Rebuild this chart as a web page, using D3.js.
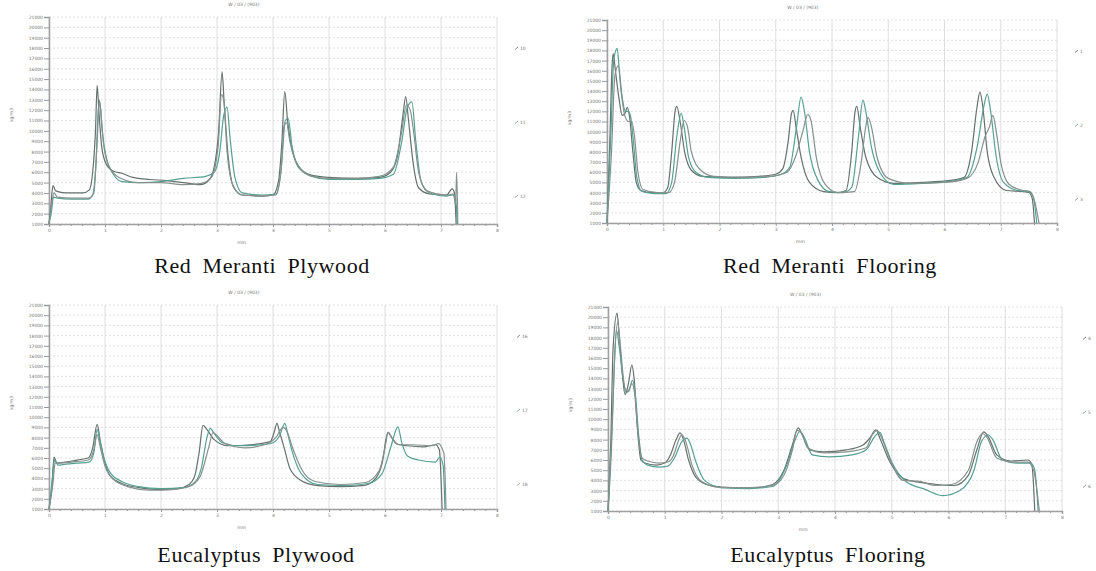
<!DOCTYPE HTML>
<html>
<head>
    <meta charset="utf-8">
    <title>Density profiles</title>
    <script src="https://d3js.org/d3.v7.min.js"></script>
    <style>
        body { margin: 0; background: #fff; }
        .cap { font-family: "Liberation Serif", "DejaVu Serif", serif; font-size: 22px; fill: #111; letter-spacing: 0.6px; word-spacing: 5px; }
        .tiny { font-family: "DejaVu Sans", sans-serif; font-size: 4.5px; fill: #777; }
    </style>
</head>
<body>
<svg id="chart" width="1096" height="571"></svg>
<script type="text/javascript">
    // tick labels
    var xTicks = [0, 1, 2, 3, 4, 5, 6, 7, 8];
    var xMinor = [0.2, 0.4, 0.6, 0.8, 1.2, 1.4, 1.6, 1.8, 2.2, 2.4, 2.6, 2.8, 3.2, 3.4, 3.6, 3.8,
                  4.2, 4.4, 4.6, 4.8, 5.2, 5.4, 5.6, 5.8, 6.2, 6.4, 6.6, 6.8, 7.2, 7.4, 7.6, 7.8];
    var yTicks = [1000, 2000, 3000, 4000, 5000, 6000, 7000, 8000, 9000, 10000, 11000,
                  12000, 13000, 14000, 15000, 16000, 17000, 18000, 19000, 20000, 21000];

    var captions = ["Red Meranti Plywood", "Red Meranti Flooring", "Eucalyptus Plywood", "Eucalyptus Flooring"];
    var legends = [["10", "11", "12"], ["1", "2", "3"], ["16", "17", "18"], ["4", "5", "6"]];
    var headTitle = "W / 03 / (903)";

    // [thickness mm, density]
    var rmPly1 = [[0,1000],[0.03,2500],[0.07,4700],[0.12,4200],[0.3,4000],[0.6,4000],[0.72,4300],[0.78,6000],[0.83,10000],[0.86,14400],[0.89,12000],[0.94,8500],[1.02,6800],[1.15,6100],[1.3,5900],[1.5,5500],[1.8,5300],[2.1,5200],[2.4,5000],[2.7,4800],[2.85,5200],[2.95,6500],[3.03,10000],[3.09,15700],[3.13,12500],[3.2,7500],[3.3,4500],[3.45,3800],[3.8,3700],[4.0,3800],[4.1,5200],[4.16,9000],[4.21,13800],[4.26,11000],[4.35,8000],[4.5,6300],[4.7,5700],[5.0,5500],[5.5,5400],[5.9,5500],[6.1,6000],[6.22,7500],[6.32,11500],[6.37,13300],[6.42,11000],[6.5,7000],[6.6,4500],[6.8,3900],[7.1,3800],[7.2,4400],[7.24,4000],[7.27,1000]];
    var rmPly2 = [[0,1200],[0.04,2000],[0.08,3600],[0.15,3500],[0.4,3400],[0.7,3400],[0.78,3800],[0.84,7000],[0.88,12000],[0.91,12700],[0.95,10000],[1.02,7500],[1.15,5800],[1.3,5100],[1.6,5000],[2.0,5100],[2.4,5400],[2.8,5600],[2.95,6000],[3.05,8000],[3.12,11500],[3.18,12300],[3.23,9500],[3.32,5500],[3.45,4000],[3.8,3800],[4.05,3900],[4.15,6500],[4.22,11000],[4.27,11200],[4.34,8500],[4.45,6500],[4.7,5600],[5.0,5300],[5.5,5300],[5.9,5400],[6.15,5800],[6.3,9000],[6.4,12300],[6.48,12800],[6.55,9000],[6.65,5000],[6.8,4000],[7.1,3700],[7.2,3800],[7.26,3500],[7.29,1000]];
    var rmPly3 = [[0,1000],[0.05,3000],[0.09,4000],[0.15,3600],[0.4,3500],[0.7,3500],[0.8,4000],[0.86,9000],[0.9,13000],[0.93,11500],[0.98,8500],[1.08,6500],[1.25,5500],[1.6,5000],[2.0,5000],[2.4,4800],[2.7,4900],[2.9,5500],[3.02,8500],[3.08,13500],[3.12,13000],[3.18,8000],[3.28,4800],[3.45,3800],[3.8,3700],[4.05,3800],[4.14,6000],[4.2,10500],[4.24,10800],[4.3,9000],[4.45,6600],[4.7,5600],[5.0,5400],[5.5,5400],[5.9,5600],[6.15,6500],[6.3,10000],[6.38,12500],[6.45,12000],[6.52,9500],[6.6,6000],[6.75,4200],[7.1,3800],[7.22,3900],[7.26,3000],[7.28,6000],[7.3,1000]];

    var rmFlr1 = [[0,1000],[0.05,9000],[0.09,16500],[0.11,17700],[0.15,16000],[0.22,13000],[0.27,11600],[0.32,11800],[0.36,12400],[0.4,11500],[0.46,8000],[0.52,5000],[0.6,4200],[0.8,4000],[1.0,4000],[1.08,4500],[1.15,8000],[1.21,12000],[1.24,12500],[1.3,11000],[1.38,8000],[1.5,6200],[1.7,5600],[2.2,5500],[2.7,5600],[3.0,5800],[3.12,6300],[3.22,9000],[3.28,11800],[3.31,12100],[3.36,10500],[3.45,7500],[3.6,5000],[3.85,4100],[4.1,4000],[4.25,4200],[4.35,8000],[4.41,12000],[4.44,12500],[4.5,10500],[4.6,7500],[4.8,5500],[5.1,4900],[5.6,5000],[6.1,5200],[6.35,5500],[6.48,8000],[6.58,12500],[6.63,13900],[6.68,12500],[6.76,8000],[6.88,5500],[7.1,4200],[7.4,4100],[7.5,4000],[7.56,3400],[7.6,1000]];
    var rmFlr2 = [[0,1000],[0.07,10000],[0.12,17000],[0.18,18200],[0.22,16000],[0.28,13000],[0.33,12000],[0.38,12000],[0.42,11500],[0.47,9000],[0.53,5500],[0.62,4100],[0.85,3900],[1.05,3900],[1.15,5000],[1.24,9500],[1.32,11800],[1.37,10500],[1.45,7500],[1.58,6000],[1.8,5500],[2.3,5400],[2.8,5500],[3.1,5800],[3.25,6500],[3.37,10500],[3.45,13400],[3.51,12000],[3.6,8000],[3.75,5200],[3.95,4100],[4.2,4000],[4.35,4500],[4.47,9500],[4.55,13100],[4.6,12000],[4.7,8500],[4.85,6000],[5.1,4800],[5.6,4900],[6.1,5100],[6.4,5500],[6.58,8500],[6.7,12500],[6.76,13700],[6.82,12000],[6.92,7500],[7.05,5000],[7.3,4200],[7.5,4100],[7.58,3500],[7.64,1000]];
    var rmFlr3 = [[0,1000],[0.08,8000],[0.14,15500],[0.2,16500],[0.25,14000],[0.32,11500],[0.38,11000],[0.44,11000],[0.49,9500],[0.55,6000],[0.64,4300],[0.9,4000],[1.1,4000],[1.2,5000],[1.3,9000],[1.37,11100],[1.43,10500],[1.5,8000],[1.65,6300],[1.9,5600],[2.4,5500],[2.9,5600],[3.2,6000],[3.35,7500],[3.48,10000],[3.57,11700],[3.63,11000],[3.72,7500],[3.88,4800],[4.1,4000],[4.4,4100],[4.52,7000],[4.6,10500],[4.64,11400],[4.7,10500],[4.8,7500],[5.0,5400],[5.4,4900],[6.0,5000],[6.4,5400],[6.6,7000],[6.72,9500],[6.8,10500],[6.86,11600],[6.92,10000],[7.0,7000],[7.15,4800],[7.4,4200],[7.52,4100],[7.6,3200],[7.68,1000]];

    var euPly1 = [[0,1000],[0.05,3000],[0.09,6100],[0.14,5500],[0.3,5600],[0.5,5800],[0.7,6000],[0.78,7000],[0.86,9300],[0.92,7500],[1.0,5500],[1.1,4200],[1.3,3500],[1.6,3100],[2.0,2900],[2.3,3000],[2.5,3400],[2.6,4200],[2.68,6500],[2.75,9200],[2.82,8800],[2.95,7800],[3.2,7200],[3.6,7300],[3.95,7600],[4.02,8500],[4.07,9400],[4.12,8500],[4.2,7000],[4.3,5000],[4.5,3800],[4.8,3300],[5.2,3200],[5.6,3300],[5.8,3800],[5.95,5500],[6.05,8500],[6.12,8000],[6.2,7400],[6.4,7200],[6.7,7100],[6.9,7300],[6.97,6800],[7.02,1000]];
    var euPly2 = [[0,1000],[0.06,4000],[0.1,5800],[0.16,5300],[0.3,5400],[0.5,5500],[0.72,5600],[0.8,6500],[0.86,8800],[0.9,8000],[0.98,6000],[1.1,4500],[1.3,3700],[1.6,3200],[2.0,3000],[2.4,3100],[2.6,3600],[2.72,5000],[2.82,8000],[2.88,8900],[2.95,8400],[3.1,7500],[3.4,7200],[3.8,7300],[4.0,7500],[4.12,8200],[4.21,9400],[4.27,8200],[4.35,6500],[4.5,4500],[4.8,3400],[5.3,3300],[5.7,3500],[5.95,4500],[6.1,7000],[6.2,8800],[6.23,9050],[6.3,7500],[6.4,6200],[6.6,5800],[6.9,5600],[6.98,6100],[7.04,5200],[7.07,1000]];
    var euPly3 = [[0,1000],[0.07,3500],[0.11,5500],[0.18,5500],[0.4,5600],[0.7,5800],[0.8,6800],[0.86,8300],[0.91,7200],[1.0,5200],[1.15,3900],[1.4,3200],[1.8,2850],[2.2,2900],[2.5,3200],[2.7,4200],[2.85,7000],[2.93,8500],[3.0,8200],[3.15,7400],[3.5,7000],[3.9,7400],[4.05,8000],[4.18,9000],[4.25,8600],[4.35,7000],[4.5,5000],[4.75,3700],[5.2,3400],[5.65,3600],[5.9,4800],[6.0,7000],[6.06,8550],[6.12,8000],[6.25,7300],[6.5,7300],[6.85,7200],[6.95,7400],[7.05,6500],[7.09,1000]];

    var euFlr1 = [[0,1000],[0.05,8000],[0.09,17000],[0.16,20400],[0.2,18000],[0.26,14000],[0.3,12400],[0.36,13500],[0.42,15300],[0.46,14000],[0.52,9000],[0.58,6000],[0.65,5700],[0.85,5500],[1.0,5700],[1.1,6500],[1.2,8000],[1.27,8650],[1.33,8000],[1.42,6000],[1.55,4300],[1.8,3500],[2.2,3300],[2.6,3300],[2.9,3600],[3.1,5000],[3.25,7500],[3.35,9150],[3.42,8500],[3.55,7000],[3.8,6800],[4.2,7000],[4.5,7500],[4.62,8200],[4.72,8950],[4.8,8000],[4.95,6000],[5.2,4200],[5.5,3800],[5.8,3600],[6.1,3500],[6.35,4500],[6.5,7000],[6.62,8750],[6.7,8300],[6.85,6500],[7.1,5900],[7.4,6000],[7.47,5500],[7.52,1000]];
    var euFlr2 = [[0,1000],[0.06,7000],[0.11,15000],[0.15,18700],[0.2,17000],[0.27,13800],[0.32,12600],[0.38,13000],[0.43,13800],[0.48,12500],[0.54,8500],[0.6,6000],[0.7,5500],[0.9,5300],[1.05,5400],[1.18,6300],[1.3,7800],[1.39,8150],[1.45,7600],[1.55,5800],[1.7,4000],[2.0,3300],[2.5,3200],[2.9,3400],[3.15,5500],[3.3,8000],[3.38,8800],[3.46,8200],[3.6,6500],[3.9,6300],[4.3,6500],[4.55,7000],[4.7,8300],[4.79,8700],[4.86,7800],[5.0,5800],[5.25,3900],[5.6,3100],[5.9,2500],[6.2,3000],[6.45,5000],[6.58,7800],[6.7,8450],[6.78,8000],[6.95,6000],[7.2,5700],[7.45,5700],[7.52,5000],[7.58,1000]];
    var euFlr3 = [[0,1000],[0.07,9000],[0.12,16500],[0.17,19500],[0.22,17000],[0.3,13000],[0.36,12700],[0.42,13500],[0.47,12500],[0.53,8500],[0.6,6200],[0.7,5900],[0.9,5700],[1.05,5800],[1.15,6400],[1.25,8000],[1.3,8500],[1.37,7800],[1.48,5500],[1.65,3900],[2.0,3300],[2.5,3300],[2.9,3500],[3.1,4500],[3.25,7000],[3.33,8900],[3.4,8700],[3.52,7200],[3.8,6700],[4.2,6800],[4.55,7200],[4.65,8400],[4.74,8900],[4.82,8200],[4.95,6300],[5.2,4000],[5.5,3900],[5.75,3500],[6.05,3600],[6.35,5000],[6.5,7800],[6.6,8600],[6.68,8200],[6.85,6200],[7.15,5800],[7.4,5800],[7.5,5000],[7.6,1000]];

    var panelSeries = [[rmPly1, rmPly2, rmPly3], [rmFlr1, rmFlr2, rmFlr3],
                       [euPly1, euPly2, euPly3], [euFlr1, euFlr2, euFlr3]];

    // where each scanned plot sits on the page
    var frames = [
        {left: 49, right: 497, top: 17, bottom: 224, legX: 518, capX: 262, capY: 273},
        {left: 607, right: 1057, top: 20, bottom: 223, legX: 1078, capX: 830, capY: 273},
        {left: 49, right: 497, top: 305, bottom: 509, legX: 520, capX: 256, capY: 562},
        {left: 608, right: 1062, top: 307, bottom: 511, legX: 1086, capX: 828, capY: 562}
    ];
    var lineColors = ["#66706d", "#55a093", "#84918c"];

    var svg = d3.select("#chart");

    frames.forEach(function(f, p) {
        var g = svg.append("g");
        var x = d3.scaleLinear().domain([0, 8]).range([f.left, f.right]);
        var y = d3.scaleLinear().domain([1000, 21000]).range([f.bottom, f.top]);

        // grid
        g.selectAll(".hg").data(yTicks).enter().append("line")
            .attr("x1", f.left).attr("x2", f.right)
            .attr("y1", function(d) { return y(d); }).attr("y2", function(d) { return y(d); })
            .attr("stroke", "#d9d9d9").attr("stroke-width", 0.8)
            .attr("stroke-dasharray", "2,2");
        g.selectAll(".vg").data(xTicks).enter().append("line")
            .attr("x1", function(d) { return x(d); }).attr("x2", function(d) { return x(d); })
            .attr("y1", f.top).attr("y2", f.bottom)
            .attr("stroke", "#dedede").attr("stroke-width", 1);

        // axes
        var yAxis = d3.axisLeft(y).tickValues(yTicks).tickSize(5).tickPadding(1).tickFormat(d3.format("d"));
        var ya = g.append("g").attr("transform", "translate(" + f.left + ",0)").call(yAxis);
        var xAxis = d3.axisBottom(x).tickValues(xTicks).tickSize(3).tickPadding(2).tickFormat(d3.format("d"));
        var xa = g.append("g").attr("transform", "translate(0," + f.bottom + ")").call(xAxis);
        g.selectAll(".mt").data(xMinor).enter().append("line")
            .attr("x1", function(d) { return x(d); }).attr("x2", function(d) { return x(d); })
            .attr("y1", f.bottom).attr("y2", f.bottom + 2)
            .attr("stroke", "#999");
        [ya, xa].forEach(function(a) {
            a.select(".domain").attr("stroke", "#a0a0a0").attr("stroke-width", 1.5);
            a.selectAll(".tick line").attr("stroke", "#999");
            a.selectAll(".tick text").attr("class", "tiny").style("font-size", "4.5px").attr("fill", "#777");
        });

        // labels around the plot
        g.append("text").attr("class", "tiny")
            .attr("transform", "translate(" + (f.left - 36) + "," + (f.top + 98) + ") rotate(-90)")
            .attr("text-anchor", "middle").text("kg/m3");
        g.append("text").attr("class", "tiny")
            .attr("x", f.left + 0.43 * (f.right - f.left)).attr("y", f.bottom + 20)
            .attr("text-anchor", "middle").text("mm");
        g.append("text").attr("class", "tiny")
            .attr("x", f.left + 0.435 * (f.right - f.left)).attr("y", f.top - 11)
            .attr("text-anchor", "middle").text(headTitle);

        // traces
        var line = d3.line()
            .x(function(d) { return x(d[0]); })
            .y(function(d) { return y(d[1]); })
            .curve(d3.curveMonotoneX);
        panelSeries[p].forEach(function(s, i) {
            g.append("path")
                .attr("d", line(s))
                .attr("fill", "none")
                .attr("stroke", lineColors[i])
                .attr("stroke-width", 1.2);
        });

        // legend marks on the right
        legends[p].forEach(function(lab, i) {
            var ly = f.top + 31 + i * 74;
            g.append("line").attr("x1", f.legX - 3).attr("y1", ly + 1.5)
                .attr("x2", f.legX).attr("y2", ly - 1)
                .attr("stroke", lineColors[i]).attr("stroke-width", 0.8);
            g.append("text").attr("class", "tiny").attr("x", f.legX + 2).attr("y", ly + 1.5).text(lab);
        });

        // caption
        svg.append("text").attr("class", "cap")
            .attr("x", f.capX).attr("y", f.capY)
            .attr("text-anchor", "middle").text(captions[p]);
    });
</script>
</body>
</html>
